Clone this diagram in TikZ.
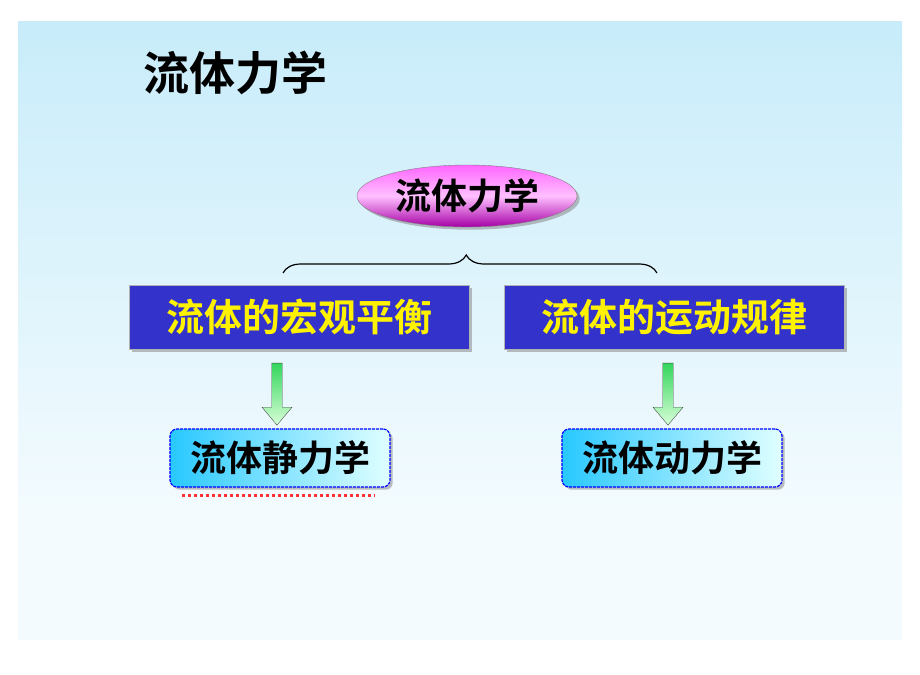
\documentclass[tikz,border=0pt]{standalone}
\usepackage{fontspec}
\setmainfont{Noto Sans CJK SC}
\newfontfamily\cjkbold{Noto Sans CJK SC Bold}
\usetikzlibrary{shapes.geometric,shapes.arrows,decorations.pathreplacing,shadows}
\definecolor{boxblue}{RGB}{51,51,204}
\definecolor{bgblue}{RGB}{200,236,250}
\definecolor{leafblue}{RGB}{40,200,255}
\begin{document}
\begin{tikzpicture}
		[x=1pt,y=-1pt,
		%Styles
		topic/.style={ellipse,minimum width=220pt,minimum height=62pt,draw=gray,
			top color=magenta!60,bottom color=violet!70!magenta,middle color=magenta!25,
			drop shadow,font=\cjkbold\fontsize{36}{38}\selectfont},
		branch/.style={rectangle,minimum width=340pt,minimum height=64pt,draw=gray!60,
			fill=boxblue,text=yellow,drop shadow,font=\cjkbold\fontsize{38}{40}\selectfont},
		leaf/.style={rectangle,rounded corners=7pt,minimum width=220pt,minimum height=58pt,
			draw=blue,dash pattern=on 3pt off 1pt,very thick,left color=leafblue,right color=cyan!12,
			drop shadow,font=\cjkbold\fontsize{36}{38}\selectfont},
		down/.style={single arrow,shape border rotate=270,draw=black!70,
			top color=green!60!teal!80,bottom color=green!15,minimum height=62pt,
			minimum width=30pt,single arrow head extend=6pt,single arrow head indent=0pt,
			single arrow tip angle=80,inner sep=3pt}
		]
		%Background
		\fill[white] (0,0) rectangle (920,674);
		\fill[top color=bgblue,bottom color=bgblue!20,draw=none] (18,22) rectangle (902,520);
		\fill[bgblue!20] (18,520) rectangle (902,640);
		\useasboundingbox (0,0) rectangle (920,674);
		
		%The graphic
		\node[font=\cjkbold\fontsize{46}{48}\selectfont] (title) at (235,73) {流体力学};
		\node[topic] (FM) at (467,196) {流体力学};
		\node[branch] (L) at (299,317) {流体的宏观平衡};
		\node[branch] (R) at (674,317) {流体的运动规律};
		\node[down] (AL) at (277,391) {};
		\node[down] (AR) at (668,391) {};
		\node[leaf] (S) at (280,458) {流体静力学};
		\node[leaf] (D) at (672,458) {流体动力学};
		
		\coordinate (bl) at (283,273);
		\coordinate (br) at (657,273);
		\draw[very thick,decorate,decoration={brace,amplitude=18pt,aspect=0.49}] (bl) -- (br);
		\draw[red!80,line width=3pt,dash pattern=on 3pt off 3pt] (182,495) -- (375,495);
\end{tikzpicture}
\end{document}
